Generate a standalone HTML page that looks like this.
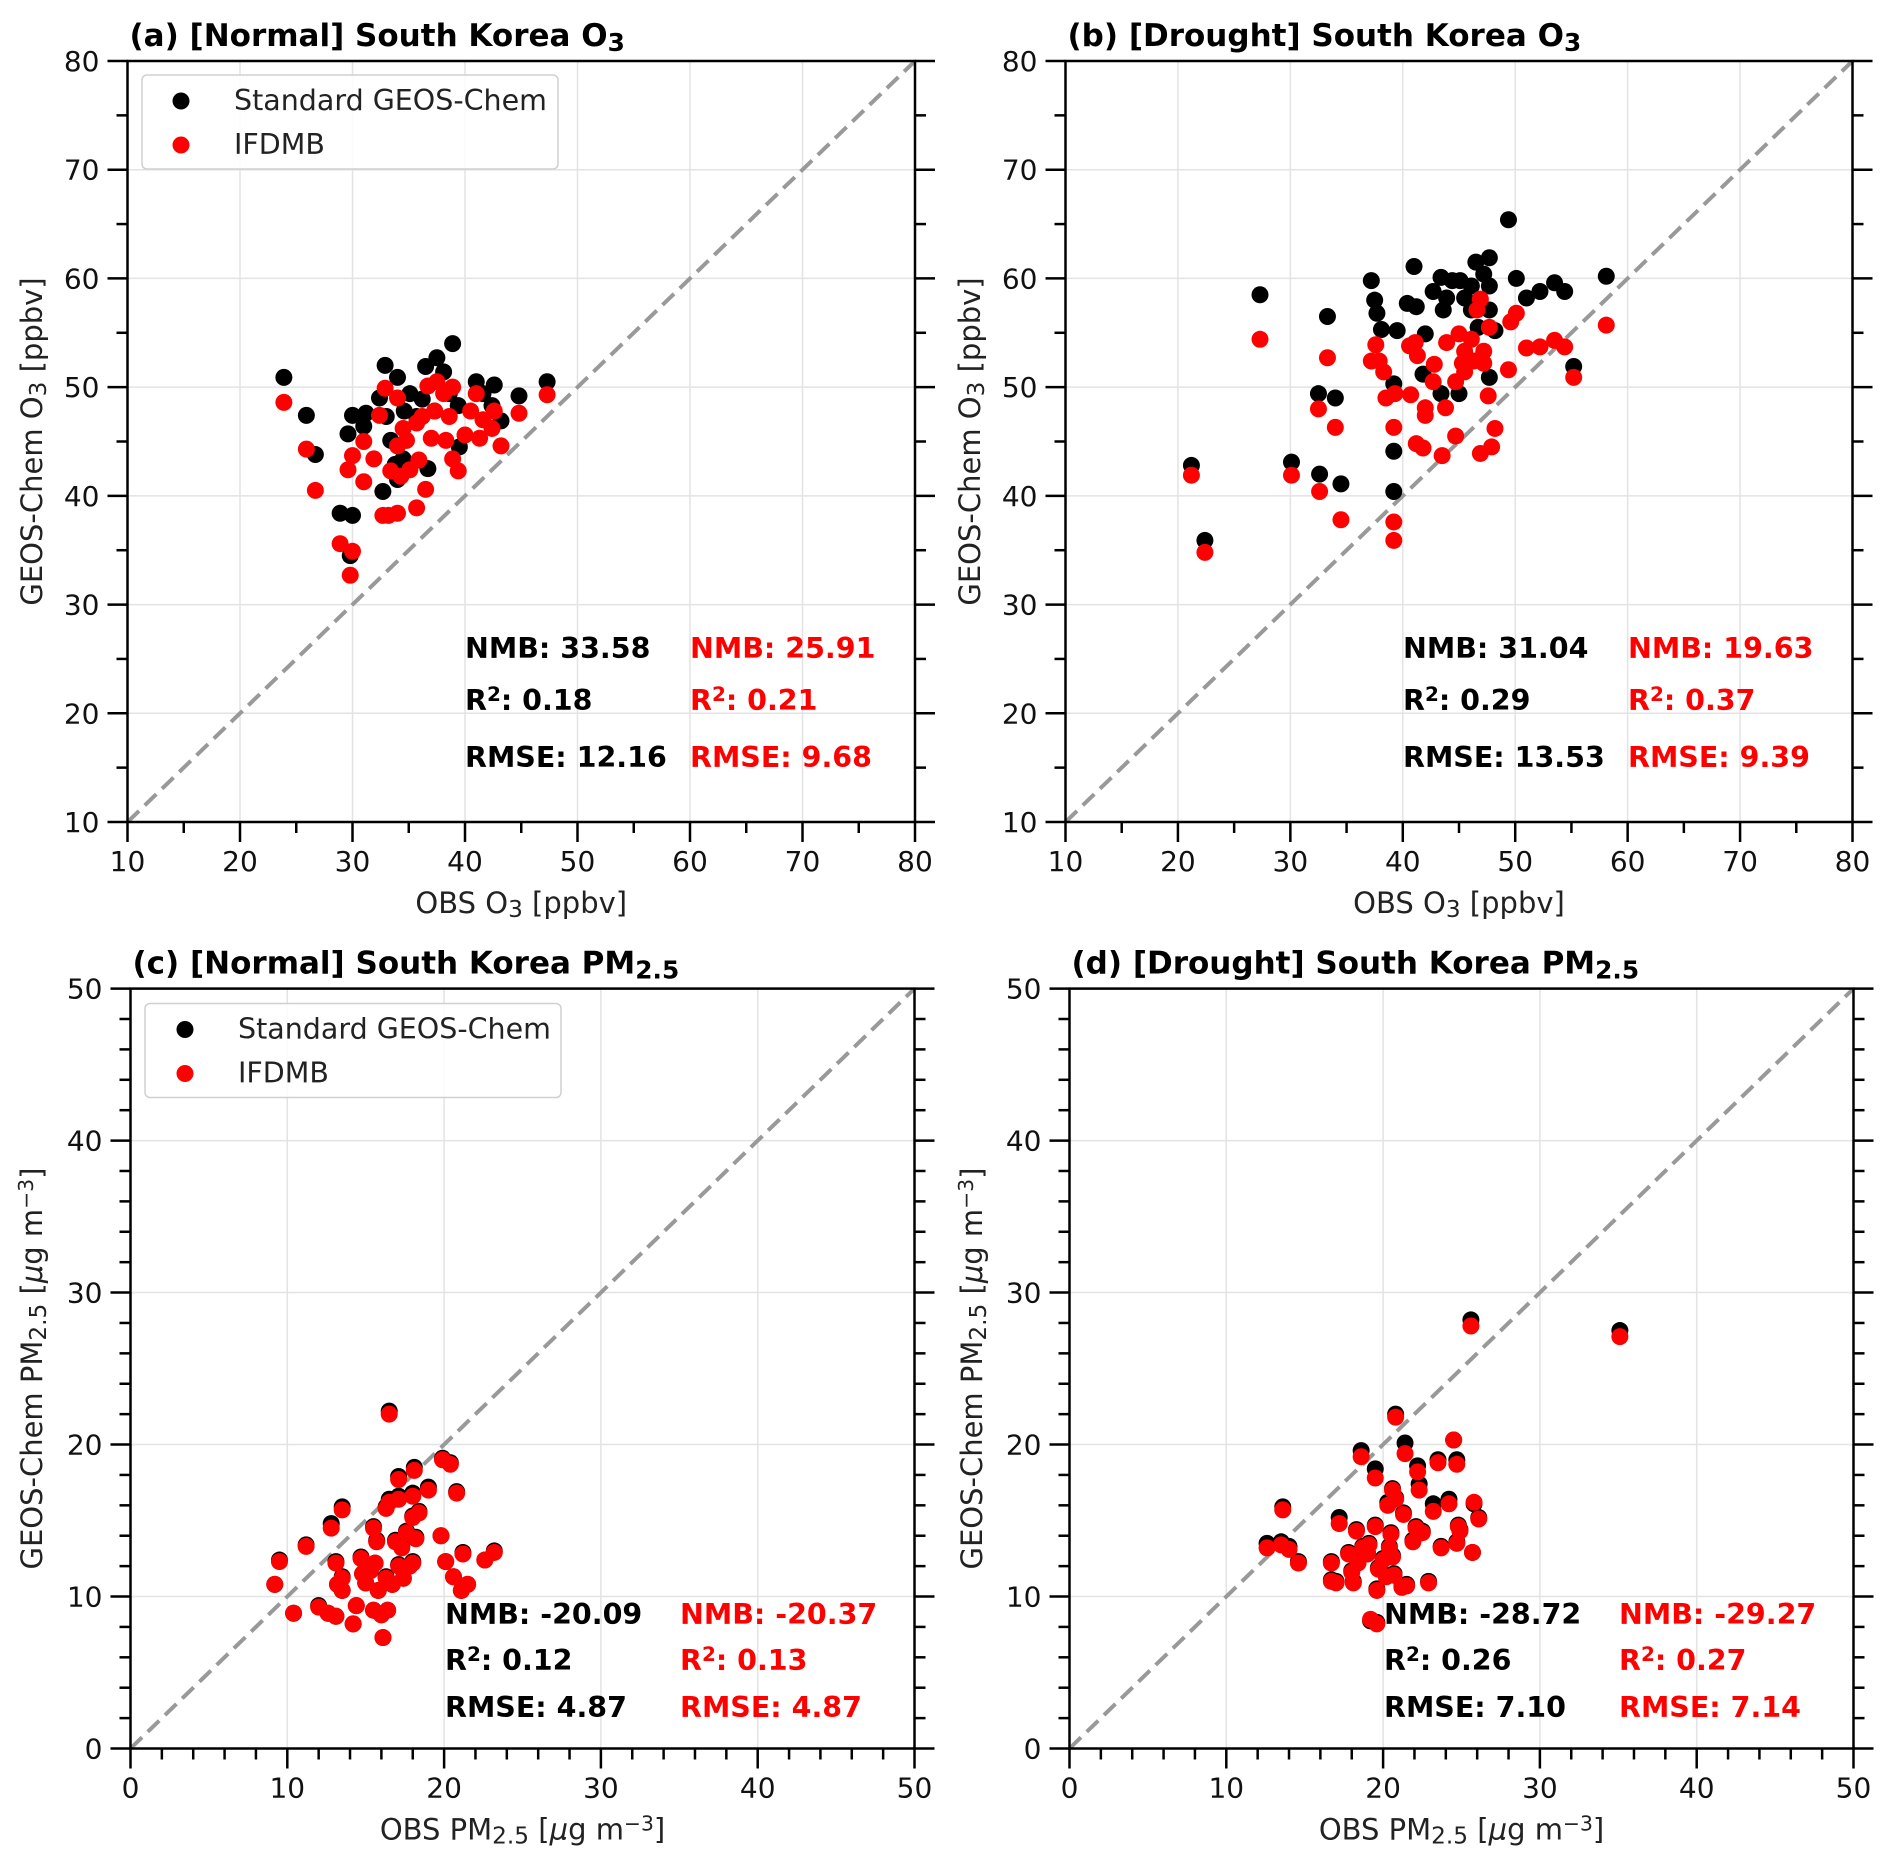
<!DOCTYPE html>
<html><head><meta charset="utf-8">
<style>
html,body{margin:0;padding:0;background:#fff;}
svg{display:block;font-family:"DejaVu Sans","Liberation Sans",sans-serif;}
</style></head>
<body>
<svg id="fig" width="1892" height="1870" viewBox="0 0 1892 1870" xmlns="http://www.w3.org/2000/svg"></svg>
<script>
// ---- Panel (a) Normal O3 ----
const aStdObs = [23.9,25.9,26.7,28.9,30.0,29.8,29.6,30.0,31.0,31.2,32.4,32.9,34.0,32.7,34.0,34.5,35.1,35.7,36.5,36.7,37.5,38.1,38.9,38.6,39.4,39.5,41.0,41.6,42.6,42.4,43.2,44.8,47.3,33.4,36.2,37.3,34.6,33.8,33.0];
const aStdMod = [50.9,47.4,43.8,38.4,38.2,34.5,45.7,47.4,46.4,47.6,49.0,52.0,50.9,40.4,41.5,43.4,49.4,47.3,51.9,42.5,52.7,51.4,54.0,49.4,48.3,44.5,50.5,49.4,50.2,48.3,46.9,49.2,50.5,45.1,48.9,47.8,47.8,42.9,47.3];
const aIfdObs = [23.9,25.9,26.7,28.9,30.0,29.8,29.6,30.0,31.0,31.0,31.9,32.4,32.9,34.0,32.7,33.2,34.0,33.4,34.0,34.3,35.1,35.7,35.9,36.5,36.2,34.5,36.7,35.7,37.5,37.3,38.1,38.9,38.6,38.3,39.4,38.9,40.0,40.5,41.0,41.3,41.6,42.4,42.6,43.2,44.8,47.3,37.0,34.8];
const aIfdMod = [48.6,44.3,40.5,35.6,34.9,32.7,42.4,43.7,45.0,41.3,43.4,47.4,49.9,49.0,38.2,38.2,38.4,42.3,44.6,41.8,42.4,38.9,43.3,40.6,47.3,46.2,50.1,46.7,50.5,47.8,49.4,50.0,47.3,45.1,42.3,43.4,45.6,47.8,49.4,45.3,47.0,46.2,47.8,44.6,47.6,49.3,45.3,45.1];
// ---- Panel (b) Drought O3 ----
const bStdObs = [21.2,22.4,27.3,30.1,32.6,32.5,33.3,34.0,34.5,37.2,37.5,37.7,38.1,39.5,39.2,39.2,39.2,40.4,41.0,41.2,42.0,41.8,42.7,43.4,43.6,43.9,44.4,45.0,45.1,45.5,46.1,46.5,46.7,47.2,47.7,47.7,47.7,47.7,48.2,49.4,50.1,51.0,52.2,53.5,54.4,55.2,58.1,43.4,46.1];
const bStdMod = [42.8,35.9,58.5,43.1,42.0,49.4,56.5,49.0,41.1,59.8,58.0,56.8,55.3,55.2,50.3,44.1,40.4,57.7,61.1,57.4,54.9,51.2,58.8,60.1,57.1,58.2,59.8,49.4,59.8,58.2,59.3,61.5,55.5,60.4,61.9,59.3,57.1,50.9,55.2,65.4,60.0,58.2,58.8,59.6,58.8,51.9,60.2,49.4,57.1];
const bIfdObs = [21.2,22.4,27.3,30.1,32.6,32.5,33.3,34.0,34.5,39.2,39.2,39.2,39.3,38.5,37.2,37.6,37.9,38.3,40.7,40.6,41.1,41.3,41.2,41.8,42.0,42.0,42.7,42.8,43.5,43.8,43.9,44.7,44.7,45.0,45.5,45.5,46.1,46.3,46.9,46.6,46.9,47.2,47.6,47.7,47.9,48.2,49.4,49.6,50.1,51.0,52.2,53.5,54.4,55.2,58.1,47.2,45.3];
const bIfdMod = [41.9,34.8,54.4,41.9,40.4,48.0,52.7,46.3,37.8,37.6,35.9,46.3,49.4,49.0,52.4,53.9,52.4,51.4,49.3,53.8,54.1,52.9,44.8,44.4,48.1,47.4,50.5,52.1,43.7,48.1,54.1,45.5,50.5,54.9,53.3,51.4,54.4,52.4,58.1,57.1,43.9,53.3,49.2,55.5,44.5,46.2,51.6,56.0,56.8,53.6,53.7,54.3,53.7,50.9,55.7,52.2,52.2];
// ---- Panel (c) Normal PM2.5 ----
const cObs    = [9.2,9.5,10.4,11.2,12.0,12.6,13.1,12.8,13.1,13.5,13.2,13.5,13.5,14.2,14.4,14.7,14.8,15.0,15.3,15.5,15.5,15.6,15.7,15.8,16.0,16.1,16.3,16.4,16.3,16.5,16.5,16.7,16.9,17.1,17.1,17.1,17.3,17.4,17.8,17.6,18.0,18.0,18.0,18.1,18.2,18.4,19.0,19.8,19.9,20.1,20.4,20.6,20.8,21.1,21.2,21.5,22.6,23.2];
const cStdMod = [10.8,12.4,8.9,13.4,9.4,8.9,8.7,14.8,12.3,15.9,10.8,10.4,11.3,8.2,9.4,12.6,11.5,10.9,11.7,14.6,9.1,12.2,13.7,10.4,8.8,7.3,11.3,9.1,15.9,16.4,22.2,10.8,13.7,12.1,16.6,17.9,13.3,11.2,12.0,14.3,15.3,16.8,12.3,18.5,13.9,15.6,17.2,14.0,19.1,12.3,18.8,11.3,16.9,10.4,12.9,10.8,12.4,13.0];
const cIfdMod = [10.8,12.3,8.9,13.3,9.3,8.9,8.7,14.5,12.2,15.7,10.8,10.4,11.2,8.2,9.4,12.5,11.5,10.9,11.7,14.5,9.1,12.2,13.6,10.4,8.8,7.3,11.2,9.1,15.8,16.2,22.0,10.8,13.6,12.0,16.4,17.7,13.2,11.2,12.0,14.2,15.2,16.6,12.2,18.3,13.8,15.5,17.0,14.0,19.0,12.3,18.7,11.3,16.8,10.4,12.8,10.8,12.4,12.9];
// ---- Panel (d) Drought PM2.5 ----
const dObs    = [12.6,13.5,13.6,14.0,14.6,16.7,16.7,17.0,17.2,17.8,18.0,18.1,18.3,18.4,18.6,18.7,19.0,19.1,19.2,19.5,19.5,19.6,19.6,19.7,20.0,20.2,20.3,20.4,20.5,20.6,20.6,20.7,20.8,20.8,21.2,21.3,21.4,21.5,21.9,22.1,22.2,22.3,22.5,22.9,23.2,23.5,23.7,24.2,24.5,24.7,24.7,24.8,24.9,25.6,25.7,25.8,26.1,35.1];
const dStdMod = [13.5,13.6,15.9,13.3,12.3,12.3,11.1,11.0,15.2,12.9,11.7,11.0,14.4,12.4,19.6,13.3,12.9,13.5,8.4,14.7,18.4,8.3,10.5,11.9,12.5,11.4,16.2,13.3,14.2,17.1,12.7,11.5,22.0,16.5,10.7,15.5,20.1,10.8,13.7,14.6,18.6,17.4,14.3,11.0,16.1,19.0,13.3,16.4,20.3,19.0,13.6,14.7,14.4,28.2,12.9,16.1,15.2,27.5];
const dIfdMod = [13.2,13.4,15.7,13.1,12.2,12.2,11.0,10.9,14.8,12.8,11.6,10.9,14.3,12.2,19.2,13.2,12.8,13.4,8.5,14.6,17.8,8.2,10.4,11.8,12.4,11.3,16.0,13.2,14.1,17.0,12.6,11.4,21.8,16.4,10.6,15.4,19.4,10.7,13.6,14.5,18.2,17.0,14.2,10.9,15.6,18.8,13.2,16.1,20.3,18.7,13.5,14.6,14.3,27.8,12.9,16.2,15.1,27.1];
const o3Ticks = [10,20,30,40,50,60,70,80];
const pmTicks = [0,10,20,30,40,50];

const NS = "http://www.w3.org/2000/svg";
const svg = document.getElementById('fig');
function mk(tag, attrs, parent){
  const e = document.createElementNS(NS, tag);
  for (const k in attrs) e.setAttribute(k, attrs[k]);
  (parent||svg).appendChild(e);
  return e;
}
function richText(parent, x, y, parts, opts){
  const t = mk('text', Object.assign({x:x, y:y}, opts||{}), parent);
  parts.forEach(p=>{
    const s = document.createElementNS(NS,'tspan');
    s.textContent = p[0];
    if (p[1]==='sub'){ s.setAttribute('font-size','80%'); s.setAttribute('baseline-shift','-18%'); }
    if (p[1]==='sup'){ s.setAttribute('font-size','70%'); s.setAttribute('baseline-shift','45%'); }
    if (p[1]==='it'){ s.setAttribute('font-style','italic'); }
    t.appendChild(s);
  });
  return t;
}

function panel(cfg){
  const g = mk('g', {});
  
  
  const sx = v => cfg.x0 + (v - cfg.min)/(cfg.max - cfg.min)*(cfg.x1 - cfg.x0);
  const sy = v => cfg.y0 - (v - cfg.min)/(cfg.max - cfg.min)*(cfg.y0 - cfg.y1);
  cfg.ticks.forEach(t=>{
    const gl = mk('line',{x1:sx(t),x2:sx(t),y1:cfg.y1,y2:cfg.y0,stroke:'#e3e3e3','stroke-width':1.5},g);
     
    const gl2 = mk('line',{x1:cfg.x0,x2:cfg.x1,y1:sy(t),y2:sy(t),stroke:'#e3e3e3','stroke-width':1.5},g);
     
  });
  const d = mk('line',{x1:sx(cfg.min),y1:sy(cfg.min),x2:sx(cfg.max),y2:sy(cfg.max),stroke:'#999','stroke-width':4,'stroke-dasharray':'16,8'},g);
   
  const pts = mk('g',{},g);
   
  cfg.stdObs.forEach((o,i)=>{
    const c = mk('circle',{cx:sx(o),cy:sy(cfg.stdMod[i]),r:8.5,fill:'#000'},pts);
     
  });
  const pts2 = mk('g',{},g);
   
  cfg.ifdObs.forEach((o,i)=>{
    const c = mk('circle',{cx:sx(o),cy:sy(cfg.ifdMod[i]),r:8.5,fill:'#f00'},pts2);
     
  });
  const fr = mk('rect',{x:cfg.x0,y:cfg.y1,width:cfg.x1-cfg.x0,height:cfg.y0-cfg.y1,fill:'none',stroke:'#000','stroke-width':2.5},g);
   
  for (let v = cfg.min; v <= cfg.max + 1e-9; v += cfg.minor){
    const major = cfg.ticks.some(t=>Math.abs(t-v)<1e-6);
    const L = major?20:11;
    mk('line',{x1:sx(v),x2:sx(v),y1:cfg.y0,y2:cfg.y0+L,stroke:'#000','stroke-width':2.5},g);
    mk('line',{x1:cfg.x0,x2:cfg.x0-L,y1:sy(v),y2:sy(v),stroke:'#000','stroke-width':2.5},g);
    mk('line',{x1:cfg.x1,x2:cfg.x1+L,y1:sy(v),y2:sy(v),stroke:'#000','stroke-width':2.5},g);
  }
  cfg.ticks.forEach(t=>{
    const xl = mk('text',{x:sx(t),y:cfg.y0+49,'text-anchor':'middle','font-size':28,fill:'#111'},g);
    xl.textContent = t;
     
    const yl = mk('text',{x:cfg.x0-28,y:sy(t)+10,'text-anchor':'end','font-size':28,fill:'#111'},g);
    yl.textContent = t;
     
  });
  const tt = richText(g, cfg.x0+2, cfg.y1-15, cfg.title, {'font-size':31,'font-weight':'bold',fill:'#000'});
   
  const xt = richText(g, (cfg.x0+cfg.x1)/2, cfg.y0+91, cfg.xlabel, {'font-size':29,'text-anchor':'middle',fill:'#222'});
   
  const ycx = cfg.ylx, ycy = (cfg.y0+cfg.y1)/2;
  const yt = richText(g, ycx, ycy, cfg.ylabel, {'font-size':29,'text-anchor':'middle',fill:'#222',transform:`rotate(-90 ${ycx} ${ycy})`});
   
  cfg.stats.forEach((row,i)=>{
    const y = cfg.statY[i];
    const s1 = richText(g, cfg.statX[0], y, row[0], {'font-size':28.5,'font-weight':'bold',fill:'#000'});
     
    const s2 = richText(g, cfg.statX[1], y, row[1], {'font-size':28.5,'font-weight':'bold',fill:'#f00'});
     
  });
  if (cfg.legend){
    const L = cfg.legend;
    const lg = mk('g',{},g);
     
    mk('rect',{x:L.x,y:L.y,width:L.w,height:L.h,rx:5,fill:'#fff','fill-opacity':0.85,stroke:'#d0d0d0','stroke-width':1.5},lg);
    const e1 = mk('g',{},lg);  
    mk('circle',{cx:L.mx,cy:L.y+26,r:8.5,fill:'#000'},e1);
    const t1 = mk('text',{x:L.tx,y:L.y+35,'font-size':28.5,fill:'#222'},e1); t1.textContent='Standard GEOS-Chem';
    const e2 = mk('g',{},lg);  
    mk('circle',{cx:L.mx,cy:L.y+70,r:8.5,fill:'#f00'},e2);
    const t2 = mk('text',{x:L.tx,y:L.y+79,'font-size':28.5,fill:'#222'},e2); t2.textContent='IFDMB';
  }
}

const o3x = [['OBS O'],['3','sub'],[' [ppbv]']];
const o3y = [['GEOS-Chem O'],['3','sub'],[' [ppbv]']];
const pmx = [['OBS PM'],['2.5','sub'],[' ['],['μ','it'],['g m'],['−3','sup'],[']']];
const pmy = [['GEOS-Chem PM'],['2.5','sub'],[' ['],['μ','it'],['g m'],['−3','sup'],[']']];
const r2 = v=>[['R'],['2','sup'],[': '+v]];

panel({name:'panel-a-normal-o3',x0:127.5,x1:915,y0:822,y1:61,min:10,max:80,ticks:o3Ticks,minor:5,
  stdObs:aStdObs,stdMod:aStdMod,ifdObs:aIfdObs,ifdMod:aIfdMod,
  title:[['(a) [Normal] South Korea O'],['3','sub']],xlabel:o3x,ylabel:o3y,ylx:42,
  statX:[465,690],statY:[658,710,767],
  stats:[[[['NMB: 33.58']],[['NMB: 25.91']]],[r2('0.18'),r2('0.21')],[[['RMSE: 12.16']],[['RMSE: 9.68']]]],
  legend:{x:142,y:75,w:416,h:94,mx:181,tx:234}});
panel({name:'panel-b-drought-o3',x0:1065.5,x1:1852.5,y0:822,y1:61,min:10,max:80,ticks:o3Ticks,minor:5,
  stdObs:bStdObs,stdMod:bStdMod,ifdObs:bIfdObs,ifdMod:bIfdMod,
  title:[['(b) [Drought] South Korea O'],['3','sub']],xlabel:o3x,ylabel:o3y,ylx:980,
  statX:[1403,1628],statY:[658,710,767],
  stats:[[[['NMB: 31.04']],[['NMB: 19.63']]],[r2('0.29'),r2('0.37')],[[['RMSE: 13.53']],[['RMSE: 9.39']]]]});
panel({name:'panel-c-normal-pm25',x0:130.5,x1:914.5,y0:1748.5,y1:988.6,min:0,max:50,ticks:pmTicks,minor:2,
  stdObs:cObs,stdMod:cStdMod,ifdObs:cObs,ifdMod:cIfdMod,
  title:[['(c) [Normal] South Korea PM'],['2.5','sub']],xlabel:pmx,ylabel:pmy,ylx:42,
  statX:[445,680],statY:[1624,1670,1717],
  stats:[[[['NMB: -20.09']],[['NMB: -20.37']]],[r2('0.12'),r2('0.13')],[[['RMSE: 4.87']],[['RMSE: 4.87']]]],
  legend:{x:145,y:1003.5,w:416,h:94,mx:185,tx:238}});
panel({name:'panel-d-drought-pm25',x0:1069.5,x1:1853.5,y0:1748.5,y1:988.6,min:0,max:50,ticks:pmTicks,minor:2,
  stdObs:dObs,stdMod:dStdMod,ifdObs:dObs,ifdMod:dIfdMod,
  title:[['(d) [Drought] South Korea PM'],['2.5','sub']],xlabel:pmx,ylabel:pmy,ylx:982,
  statX:[1384,1619],statY:[1624,1670,1717],
  stats:[[[['NMB: -28.72']],[['NMB: -29.27']]],[r2('0.26'),r2('0.27')],[[['RMSE: 7.10']],[['RMSE: 7.14']]]]});
</script>
</body></html>
